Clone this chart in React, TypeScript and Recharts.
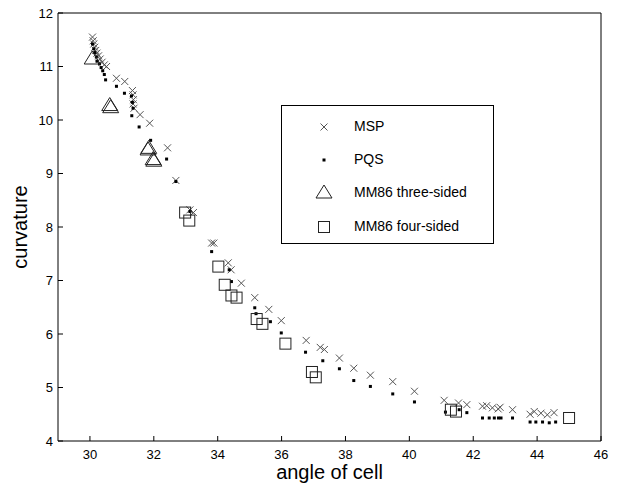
import { ScatterChart, Scatter, XAxis, YAxis, Legend } from 'recharts';

const xTicks = [30, 32, 34, 36, 38, 40, 42, 44, 46];
const yTicks = [4, 5, 6, 7, 8, 9, 10, 11, 12];

const mspAngle = [
  30.08, 30.1, 30.12, 30.15, 30.18, 30.22, 30.27, 30.32, 30.38, 30.45, 30.52, 30.83, 31.09,
  31.33, 31.35, 31.36, 31.35, 31.38, 31.57, 31.87, 32.43, 32.69, 33.13, 33.24, 33.81, 33.88,
  34.33, 34.42, 34.74, 35.16, 35.6, 35.99, 36.77, 37.21, 37.34, 37.81, 38.26, 38.78, 39.48,
  40.16, 41.09, 41.54, 41.8, 42.29, 42.42, 42.6, 42.78, 42.84, 43.23, 43.78, 43.91, 44.12,
  44.32, 44.53,
];
const mspCurv = [
  11.55, 11.48, 11.42, 11.36, 11.3, 11.25, 11.2, 11.14, 11.08, 11.03, 11.0, 10.78, 10.72,
  10.55, 10.47, 10.38, 10.3, 10.22, 10.1, 9.94, 9.48, 8.87, 8.32, 8.27, 7.7, 7.7,
  7.33, 7.2, 6.95, 6.68, 6.46, 6.25, 5.88, 5.75, 5.71, 5.55, 5.36, 5.23, 5.11,
  4.93, 4.76, 4.71, 4.68, 4.65, 4.66, 4.62, 4.6, 4.63, 4.585, 4.5, 4.55, 4.52,
  4.49, 4.53,
];

const pqsAngle = [
  30.08, 30.12, 30.15, 30.2, 30.22, 30.3, 30.35, 30.4, 30.45, 30.49, 30.83, 31.08, 31.3,
  31.33, 31.35, 31.31, 31.54, 31.9, 32.4, 32.69, 33.13, 33.81, 34.36, 34.43, 35.16, 35.2,
  35.65, 35.99, 36.75, 37.29, 37.81, 38.26, 38.78, 39.48, 40.16, 41.13, 41.56, 41.8, 42.29,
  42.5, 42.66, 42.79, 42.87, 43.23, 43.78, 43.96, 44.17, 44.38, 44.58,
];
const pqsCurv = [
  11.42, 11.33, 11.26, 11.18, 11.1, 11.05, 10.98, 10.92, 10.85, 10.75, 10.63, 10.5, 10.45,
  10.33, 10.22, 10.08, 9.87, 9.62, 9.27, 8.85, 8.29, 7.54, 7.2, 6.98, 6.49, 6.38,
  6.23, 6.02, 5.66, 5.5, 5.35, 5.13, 5.02, 4.88, 4.73, 4.54, 4.585, 4.53, 4.43,
  4.43, 4.43, 4.43, 4.43, 4.43, 4.355, 4.355, 4.355, 4.34, 4.355,
];

const triAngle = [30.07, 30.62, 30.65, 31.82, 31.84, 31.98, 32.0];
const triCurv = [11.14, 10.27, 10.23, 9.44, 9.47, 9.26, 9.23];

const sqAngle = [32.98, 33.11, 34.02, 34.22, 34.43, 34.59, 35.22, 35.4, 36.12, 36.95, 37.07, 41.3, 41.46, 45.0];
const sqCurv = [8.27, 8.12, 7.26, 6.92, 6.72, 6.68, 6.28, 6.19, 5.82, 5.29, 5.19, 4.585, 4.55, 4.43];

const zip = (xs: number[], ys: number[]) => xs.map((x, i) => ({ x, y: ys[i] }));

const FONT = '"Liberation Sans", Arial, sans-serif';

const Cross = ({ cx, cy }: any) => (
  <g stroke="#555" strokeWidth={1}>
    <line x1={cx - 3.5} y1={cy - 3.5} x2={cx + 3.5} y2={cy + 3.5} />
    <line x1={cx - 3.5} y1={cy + 3.5} x2={cx + 3.5} y2={cy - 3.5} />
  </g>
);

const Dot = ({ cx, cy }: any) => <rect x={cx - 1.5} y={cy - 1.5} width={3} height={3} fill="#000" />;

const Tri = ({ cx, cy }: any) => (
  <polygon
    points={`${cx},${cy - 8} ${cx - 8},${cy + 5} ${cx + 8},${cy + 5}`}
    fill="none"
    stroke="#222"
    strokeWidth={1}
  />
);

const Sq = ({ cx, cy }: any) => (
  <rect x={cx - 5.5} y={cy - 5.5} width={11} height={11} fill="none" stroke="#222" strokeWidth={1} />
);

const legendRows = [
  { name: 'MSP', Shape: Cross },
  { name: 'PQS', Shape: Dot },
  { name: 'MM86 three-sided', Shape: Tri },
  { name: 'MM86 four-sided', Shape: Sq },
];

function LegendBox() {
  return (
    <div
      style={{
        width: 213,
        height: 139,
        boxSizing: 'border-box',
        border: '1px solid #000',
        background: '#fff',
        paddingTop: 3,
        fontFamily: FONT,
        fontSize: 14,
        color: '#000',
      }}
    >
      {legendRows.map(({ name, Shape }) => (
        <div key={name} style={{ display: 'flex', alignItems: 'center', height: 33.3 }}>
          <svg width={20} height={20} style={{ marginLeft: 32, marginRight: 20 }}>
            <Shape cx={10} cy={11} />
          </svg>
          <span>{name}</span>
        </div>
      ))}
    </div>
  );
}

export default function App() {
  return (
    <div style={{ position: 'absolute', left: 0, top: 0, width: 620, height: 484, background: '#fff' }}>
      <ScatterChart width={620} height={484} margin={{ top: 12, right: 18, bottom: 13, left: 18 }}>
        <XAxis
          dataKey="x"
          type="number"
          domain={[29, 46]}
          ticks={xTicks}
          allowDataOverflow
          height={30}
          tickSize={-5}
          tickMargin={14}
          stroke="#000"
          tick={{ fill: '#000', fontSize: 13, fontFamily: FONT }}
          label={{ value: 'angle of cell', position: 'bottom', offset: -6, fill: '#000', fontSize: 20, fontFamily: FONT }}
        />
        <XAxis
          xAxisId="top"
          orientation="top"
          type="number"
          domain={[29, 46]}
          ticks={xTicks}
          allowDataOverflow
          height={1}
          tickSize={-5}
          tick={false}
          stroke="#000"
        />
        <YAxis
          dataKey="y"
          type="number"
          domain={[4, 12]}
          ticks={yTicks}
          allowDataOverflow
          width={40}
          tickSize={-5}
          tickMargin={10}
          stroke="#000"
          tick={{ fill: '#000', fontSize: 13, fontFamily: FONT }}
          label={{
            value: 'curvature',
            angle: -90,
            position: 'insideLeft',
            offset: 2,
            style: { textAnchor: 'middle' },
            fill: '#000',
            fontSize: 20,
            fontFamily: FONT,
          }}
        />
        <YAxis
          yAxisId="right"
          orientation="right"
          type="number"
          domain={[4, 12]}
          ticks={yTicks}
          allowDataOverflow
          width={1}
          tickSize={-5}
          tick={false}
          stroke="#000"
        />
        <Legend
          layout="vertical"
          align="center"
          verticalAlign="middle"
          content={() => <LegendBox />}
          wrapperStyle={{ left: 281, top: 105, width: 213, height: 139 }}
        />
        <Scatter name="MSP" data={zip(mspAngle, mspCurv)} shape={Cross} isAnimationActive={false} />
        <Scatter name="PQS" data={zip(pqsAngle, pqsCurv)} shape={Dot} isAnimationActive={false} />
        <Scatter name="MM86 three-sided" data={zip(triAngle, triCurv)} shape={Tri} isAnimationActive={false} />
        <Scatter name="MM86 four-sided" data={zip(sqAngle, sqCurv)} shape={Sq} isAnimationActive={false} />
      </ScatterChart>
    </div>
  );
}
